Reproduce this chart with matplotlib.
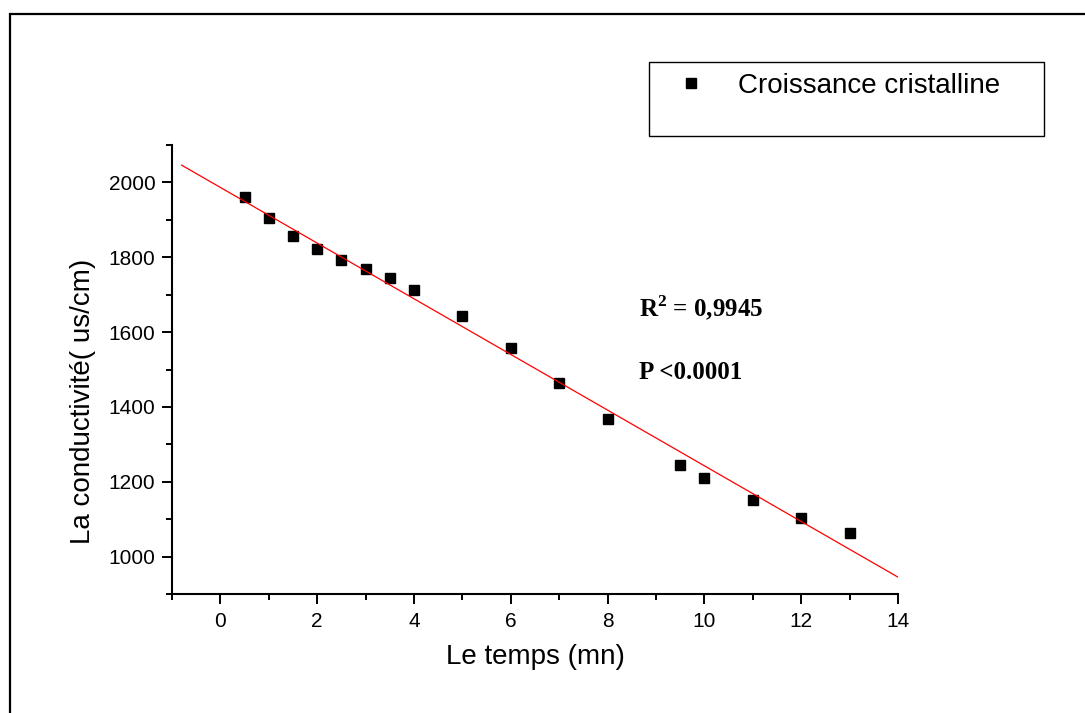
import numpy as np
import matplotlib
matplotlib.use("Agg")
import matplotlib.pyplot as plt
from matplotlib.patches import Rectangle
from matplotlib.ticker import MultipleLocator

# temps (mn) et conductivité (us/cm)
temps = [0.5, 1, 1.5, 2, 2.5, 3, 3.5, 4, 5, 6, 7, 8, 9.5, 10, 11, 12, 13]
conductivite = [1960, 1905, 1858, 1821, 1794, 1768, 1744, 1713, 1644,
                1558, 1463, 1367, 1245, 1211, 1152, 1104, 1064]
fit_range = [-0.8, 14]

plt.rcParams['font.family'] = ['Liberation Sans', 'DejaVu Sans']
plt.rcParams['mathtext.fontset'] = 'custom'
plt.rcParams['mathtext.rm'] = 'Liberation Serif'
plt.rcParams['mathtext.bf'] = 'Liberation Serif:bold'

fig = plt.figure(figsize=(10.85, 7.13), dpi=100)
ax = fig.add_axes([0.1585, 0.1669, 0.6691, 0.6297])

ax.plot(temps, conductivite, 's', color='black', ms=7, label='Croissance cristalline')

# regression lineaire
slope, intercept = np.polyfit(temps, conductivite, 1)
xs = np.array(fit_range)
ax.plot(xs, slope * xs + intercept, color='red', lw=0.9)

ax.set_xlim(-1, 14)
ax.set_ylim(900, 2100)
ax.xaxis.set_minor_locator(MultipleLocator(1))
ax.yaxis.set_minor_locator(MultipleLocator(100))
ax.set_xticks(range(0, 15, 2))
ax.set_yticks(range(1000, 2001, 200))

for s in ['top', 'right']:
    ax.spines[s].set_visible(False)
for s in ['left', 'bottom']:
    ax.spines[s].set_linewidth(1.5)
ax.tick_params(which='major', direction='out', length=7, width=1.4, labelsize=15)
ax.tick_params(axis='x', which='major', pad=6)
ax.tick_params(axis='y', which='major', pad=5)
ax.tick_params(which='minor', direction='out', length=4, width=1.4)

ax.set_xlabel('Le temps (mn)', fontsize=20)
ax.set_ylabel('La conductivité( us/cm)', fontsize=20)
ax.xaxis.set_label_coords(0.5, -0.112)
ax.yaxis.set_label_coords(-0.105, 0.428)

ax.text(0.643, 0.635, r'R$^{\mathbf{2}}$ = 0,9945', transform=ax.transAxes,
        family='Liberation Serif', fontweight='bold', fontsize=18, va='center')
ax.text(0.643, 0.494, 'P <0.0001', transform=ax.transAxes,
        family='Liberation Serif', fontweight='bold', fontsize=18, va='center')

# legende avec son cadre
fig.legend(loc='center left', bbox_to_anchor=(638 / 1085, 1 - 86 / 713),
           frameon=False, fontsize=20, handletextpad=0.7)
fig.patches.append(Rectangle((649 / 1085, 1 - 136 / 713), 395 / 1085, 74 / 713,
                             transform=fig.transFigure, fill=False, lw=1.0,
                             edgecolor='black'))

# cadre exterieur
fig.patches.append(Rectangle((10 / 1085, -0.05), 1.1, 1 - 14 / 713 + 0.05,
                             transform=fig.transFigure, fill=False, lw=1.6,
                             edgecolor='black', clip_on=False))

fig.savefig('out.png', dpi=100)
